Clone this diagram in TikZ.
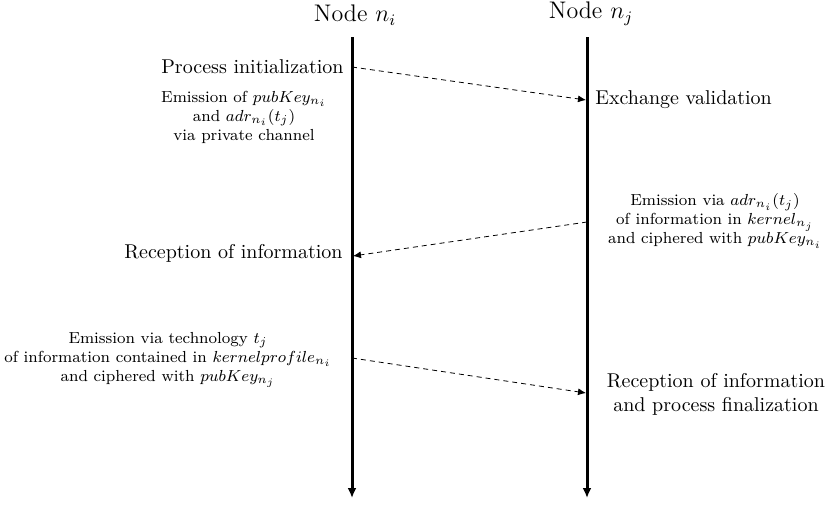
\documentclass[tikz,border=0pt]{standalone}
\usetikzlibrary{arrows.meta}
\begin{document}
\begin{tikzpicture}[x=0.5pt,y=-0.5pt,
  big/.style={inner sep=0pt, align=center},
  head/.style={inner sep=0pt, font=\large},
  small/.style={inner sep=0pt, font=\footnotesize, align=center},
  life/.style={line width=1.5pt, -{Latex[length=5pt,width=4.5pt]}},
  msg/.style={dash pattern=on 2.5pt off 2pt, line width=0.4pt, -{Latex[length=4pt,width=3.5pt]}}]
\useasboundingbox (0,0) rectangle (827,505);
% headers
\node[head] (ni) at (355,15) {Node $n_i$};
\node[head] (nj) at (591,14) {Node $n_j$};
% lifelines
\coordinate (ltop) at (352,37);
\coordinate (lbot) at (352,498);
\coordinate (rtop) at (587,37);
\coordinate (rbot) at (587,498);
\draw[life] (ltop) -- (lbot);
\draw[life] (rtop) -- (rbot);
% message 1
\coordinate (m1s) at (352,67);
\coordinate (m1e) at (586,100);
\node[big, anchor=east] (pinit) at (344,67) {Process initialization};
\node[big, anchor=west] (exval) at (595,100) {Exchange validation};
\node[small] (em1) at (244,117) {Emission of $pubKey_{n_i}$\\ and $adr_{n_i}(t_j)$\\ via private channel};
\draw[msg] (m1s) -- (m1e);
% message 2
\coordinate (m2s) at (587,222);
\coordinate (m2e) at (353,256);
\node[small] (em2) at (715,221) {Emission via $adr_{n_i}(t_j)$\\ of information in $kernel_{n_j}$\\ and ciphered with $pubKey_{n_i}$};
\node[big, anchor=east] (rec1) at (343,253) {Reception of information};
\draw[msg] (m2s) -- (m2e);
% message 3
\coordinate (m3s) at (352,358);
\coordinate (m3e) at (586,393);
\node[small] (em3) at (168,360) {Emission via technology $t_j$\\ of information contained in $kernelprofile_{n_i}$\\ and ciphered with $pubKey_{n_j}$};
\node[big] (rec2) at (716,394) {Reception of information\\ and process finalization};
\draw[msg] (m3s) -- (m3e);
\end{tikzpicture}
\end{document}
